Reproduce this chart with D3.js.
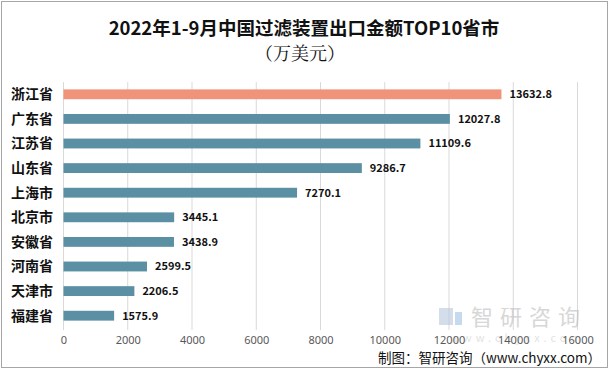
<!DOCTYPE html>
<html>
<head>
<meta charset="utf-8">
<script src="https://cdn.jsdelivr.net/npm/d3@7"></script>
<style>
  html, body { margin: 0; padding: 0; background: #fff; }
  svg { display: block; font-family: "Noto Sans CJK SC", "Noto Sans", sans-serif; }
</style>
</head>
<body>
<svg id="chart" width="610" height="369"></svg>
<script>
// data
const provinces = ["浙江省","广东省","江苏省","山东省","上海市","北京市","安徽省","河南省","天津市","福建省"];
const amounts   = [13632.8, 12027.8, 11109.6, 9286.7, 7270.1, 3445.1, 3438.9, 2599.5, 2206.5, 1575.9];
const xTicks    = [0, 2000, 4000, 6000, 8000, 10000, 12000, 14000, 16000];
const titleLines = ["2022年1-9月中国过滤装置出口金额TOP10省市", "（万美元）"];
const source    = "制图：智研咨询（www.chyxx.com）";

const svg = d3.select("#chart");
const W = 610, H = 369;

// outer frame
svg.append("rect")
  .attr("x", 1.5).attr("y", 1.5)
  .attr("width", W - 4).attr("height", H - 3)
  .attr("fill", "#fff").attr("stroke", "#a6a6a6");

// title
svg.append("text")
  .attr("x", 304).attr("y", 35)
  .attr("text-anchor", "middle")
  .attr("font-size", "18.5px").attr("font-weight", "bold")
  .attr("fill", "#111")
  .text(titleLines[0]);
svg.append("text")
  .attr("x", 300).attr("y", 60)
  .attr("text-anchor", "middle")
  .attr("font-size", "18px")
  .attr("font-family", "'Noto Serif CJK SC', 'Noto Sans CJK SC', serif")
  .attr("fill", "#111")
  .text(titleLines[1]);

const x = d3.scaleLinear().domain([0, 16000]).range([63.5, 577.5]);
const y = d3.scaleBand().domain(provinces).range([82, 328]).paddingInner(0.6).paddingOuter(0.3);

// gridlines
svg.append("g")
  .selectAll("line")
  .data(xTicks).enter().append("line")
    .attr("x1", d => x(d)).attr("x2", d => x(d))
    .attr("y1", 82).attr("y2", 330)
    .attr("stroke", "#d9d9d9").attr("stroke-width", 1);

// watermark
const wm = svg.append("g").attr("opacity", 0.6);
wm.append("rect").attr("x", 439).attr("y", 308).attr("width", 14).attr("height", 17).attr("fill", "#b8c9de");
wm.append("rect").attr("x", 455).attr("y", 312).attr("width", 7).attr("height", 13).attr("fill", "#9fc3e3");
wm.append("text")
  .attr("x", 471).attr("y", 325)
  .attr("font-size", "22px").attr("fill", "#bdbdbd")
  .attr("letter-spacing", "7px")
  .text("智研咨询");
wm.append("text")
  .attr("x", 450).attr("y", 342)
  .attr("font-size", "11px").attr("fill", "#d0d0d0")
  .attr("letter-spacing", "4px")
  .text("www.chyxx.com");

// bars
svg.append("g")
  .selectAll("rect")
  .data(provinces).enter().append("rect")
    .attr("x", x(0))
    .attr("y", d => y(d))
    .attr("width", (d, i) => x(amounts[i]) - x(0))
    .attr("height", y.bandwidth())
    .attr("fill", (d, i) => i === 0 ? "#f0937b" : "#5b8fa3");

// value labels
svg.append("g")
  .selectAll("text")
  .data(provinces).enter().append("text")
    .attr("x", (d, i) => x(amounts[i]) + 8)
    .attr("y", d => y(d) + y.bandwidth() / 2)
    .attr("dy", "0.35em")
    .attr("font-size", "11px").attr("font-weight", "bold")
    .attr("fill", "#111")
    .text((d, i) => d3.format(".1f")(amounts[i]));

// category labels
svg.append("g")
  .selectAll("text")
  .data(provinces).enter().append("text")
    .attr("x", 11)
    .attr("y", d => y(d) + y.bandwidth() / 2)
    .attr("dy", "0.35em")
    .attr("font-size", "14px").attr("font-weight", "bold")
    .attr("fill", "#111")
    .text(d => d);

// x axis labels
const xAxis = svg.append("g")
  .attr("transform", "translate(0,336)")
  .call(d3.axisBottom(x).tickValues(xTicks).tickSize(0).tickPadding(0).tickFormat(d3.format("d")));
xAxis.select(".domain").remove();
xAxis.selectAll("text")
  .attr("font-size", "11px")
  .attr("fill", "#595959")
  .attr("font-family", "'Noto Sans', sans-serif");

// source
svg.append("text")
  .attr("x", 601).attr("y", 363)
  .attr("text-anchor", "end")
  .attr("font-size", "13.5px")
  .attr("fill", "#111")
  .text(source);
</script>
</body>
</html>
